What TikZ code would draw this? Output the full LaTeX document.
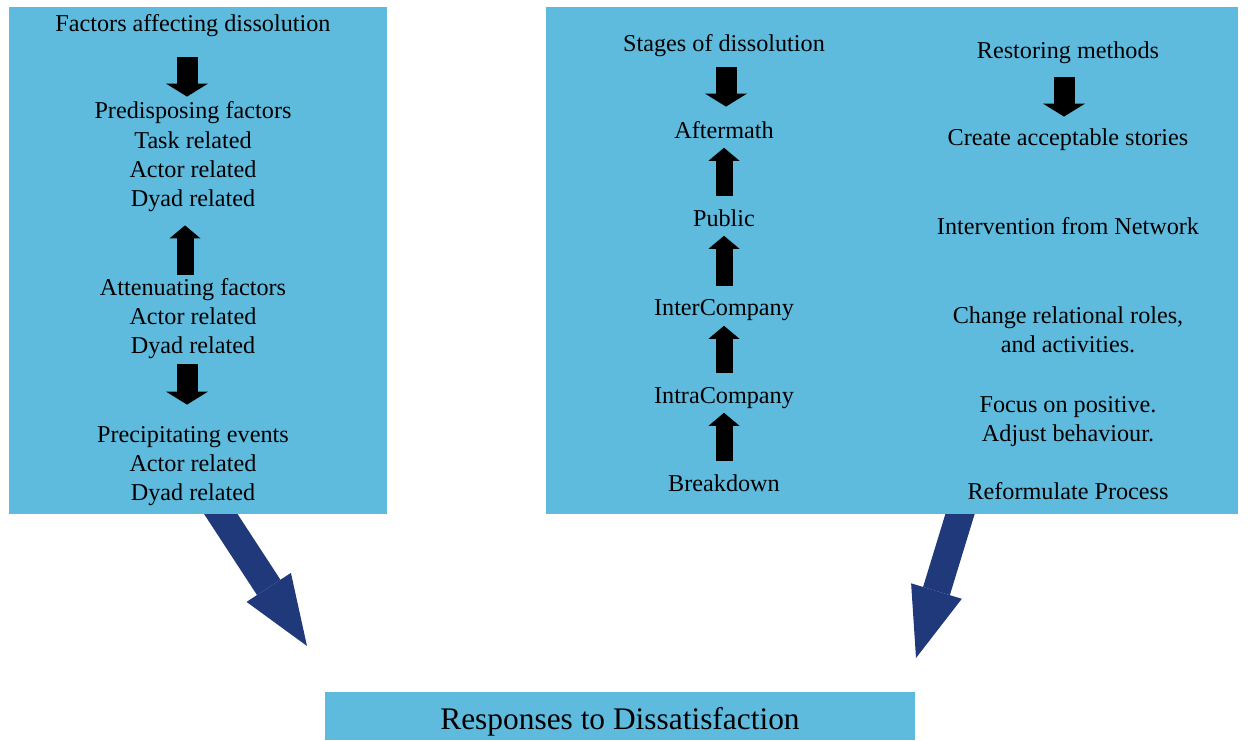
\documentclass[tikz,border=0pt]{standalone}
\usepackage{fontspec}
\setmainfont{Liberation Serif}
\usetikzlibrary{arrows.meta,backgrounds}

\definecolor{panelblue}{RGB}{94,187,222}
\definecolor{bigblue}{RGB}{31,57,122}

\begin{document}
\begin{tikzpicture}[
  x=0.5pt, y=-0.5pt,
  panel/.style={fill=panelblue, inner sep=0pt},
  txt/.style={inner sep=0pt, anchor=base, text height=8.3pt, text depth=2.7pt, font=\fontsize{12.1}{14.6}\selectfont},
  dnarr/.style={-{Triangle[width=21pt,length=6.5pt,line width=0pt]}, line width=10.5pt},
  uparr/.style={-{Triangle[width=15.5pt,length=6.5pt,line width=0pt]}, line width=8.5pt},
  bigarr/.style={-{Triangle[width=26.5pt,length=35pt,line width=0pt]}, line width=14pt, draw=bigblue, fill=bigblue}
]
\useasboundingbox (0,0) rectangle (1248,740);

% panels
\node[panel, minimum width=189pt, minimum height=253.5pt] (factorsbox) at (198,260.5) {};
\node[panel, minimum width=346pt, minimum height=253.5pt] (stagesbox) at (892,260.5) {};
\node[panel, minimum width=295pt, minimum height=24pt, text height=15pt, text depth=2pt,
      font=\fontsize{15.7}{19}\selectfont] (resp) at (620,716) {Responses to Dissatisfaction};

% factors affecting dissolution
\node[txt] (fact) at (193,31) {Factors affecting dissolution};
\node[txt] (pred) at (193,118) {Predisposing factors};
\node[txt] (task) at (193,148) {Task related};
\node[txt] (actA) at (193,177) {Actor related};
\node[txt] (dyadA) at (193,206) {Dyad related};
\node[txt] (atte) at (193,295) {Attenuating factors};
\node[txt] (actB) at (193,324) {Actor related};
\node[txt] (dyadB) at (193,353) {Dyad related};
\node[txt] (prec) at (193,442) {Precipitating events};
\node[txt] (actC) at (193,471) {Actor related};
\node[txt] (dyadC) at (193,500) {Dyad related};

\draw[dnarr, shorten <=10.3pt, shorten >=2.2pt] ([xshift=-3pt]fact.south) -- ([xshift=-3pt]pred.north);
\draw[uparr, shorten <=1.7pt, shorten >=6.8pt] ([xshift=-4pt]atte.north) -- ([xshift=-4pt]dyadA.south);
\draw[dnarr, shorten <=2.8pt, shorten >=10.2pt] ([xshift=-3pt]dyadB.south) -- ([xshift=-3pt]prec.north);

% stages of dissolution
\node[txt] (stag) at (724,51) {Stages of dissolution};
\node[txt] (aftm) at (724,138) {Aftermath};
\node[txt] (publ) at (724,226) {Public};
\node[txt] (inter) at (724,315) {InterCompany};
\node[txt] (intra) at (724,403) {IntraCompany};
\node[txt] (brkd) at (724,491) {Breakdown};

\draw[dnarr, shorten <=5.3pt, shorten >=7.2pt] ([xshift=1pt]stag.south) -- ([xshift=1pt]aftm.north);
\draw[uparr, shorten <=6.5pt, shorten >=2pt] (publ.north) -- (aftm.south);
\draw[uparr, shorten <=6pt, shorten >=2pt] (inter.north) -- (publ.south);
\draw[uparr, shorten <=6.5pt, shorten >=2.5pt] (intra.north) -- (inter.south);
\draw[uparr, shorten <=6.5pt, shorten >=2pt] (brkd.north) -- (intra.south);

% restoring methods
\node[txt] (rest) at (1068,58) {Restoring methods};
\node[txt] (story) at (1068,145) {Create acceptable stories};
\node[txt] (netw) at (1068,234) {Intervention from Network};
\node[txt] (roles) at (1068,323) {Change relational roles,};
\node[txt] (roles2) at (1068,352) {and activities.};
\node[txt] (focus) at (1068,412) {Focus on positive.};
\node[txt] (adjust) at (1068,441) {Adjust behaviour.};
\node[txt] (reform) at (1068,499) {Reformulate Process};

\draw[dnarr, shorten <=6.8pt, shorten >=5.7pt] ([xshift=-2pt]rest.south) -- ([xshift=-2pt]story.north);

% towards the responses
\coordinate (tipL) at (307,646);
\coordinate (tipR) at (916,658);
\begin{scope}[on background layer]
\draw[bigarr] ([xshift=5pt,yshift=10pt]factorsbox.south) -- (tipL);
\draw[bigarr] ([xshift=37pt,yshift=10pt]stagesbox.south) -- (tipR);
\end{scope}
\end{tikzpicture}
\end{document}
